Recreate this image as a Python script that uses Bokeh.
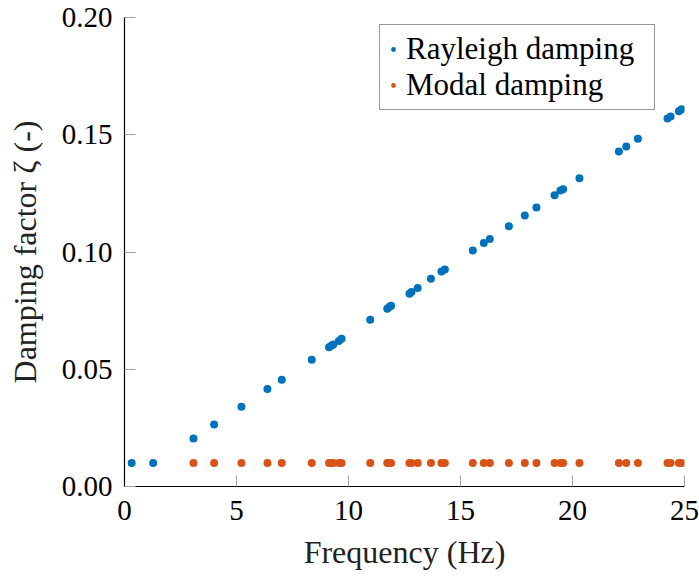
from bokeh.plotting import figure
from bokeh.models import Range1d, SingleIntervalTicker, NumeralTickFormatter, Legend, LegendItem
from bokeh.embed import file_html
from bokeh.resources import INLINE

# Data
rayleigh_freq = [0.32, 1.28, 3.08, 4.00, 5.22, 6.38, 7.02, 8.36, 9.13, 9.23, 9.32, 9.57, 9.69,
                 10.97, 11.73, 11.82, 11.90, 12.72, 12.81, 13.09, 13.68, 14.15, 14.30, 15.55,
                 16.04, 16.31, 17.16, 17.87, 18.39, 19.20, 19.46, 19.58, 20.31, 22.07, 22.40,
                 22.92, 24.24, 24.38, 24.75, 24.87]
rayleigh_zeta = [0.0100, 0.0100, 0.0205, 0.0264, 0.0340, 0.0416, 0.0455, 0.0541, 0.0594, 0.0600,
                 0.0606, 0.0620, 0.0630, 0.0711, 0.0758, 0.0765, 0.0771, 0.0822, 0.0829, 0.0847,
                 0.0886, 0.0917, 0.0925, 0.1006, 0.1038, 0.1055, 0.1110, 0.1156, 0.1190, 0.1242,
                 0.1262, 0.1268, 0.1315, 0.1429, 0.1450, 0.1483, 0.1569, 0.1578, 0.1600, 0.1609]
modal_freq = [3.08, 4.00, 5.22, 6.38, 7.02, 8.36, 9.13, 9.23, 9.32, 9.57, 9.69,
              10.97, 11.73, 11.82, 11.90, 12.72, 12.81, 13.09, 13.68, 14.15, 14.30, 15.55,
              16.04, 16.31, 17.16, 17.87, 18.39, 19.20, 19.46, 19.58, 20.31, 22.07, 22.40,
              22.92, 24.24, 24.38, 24.75, 24.87]
modal_zeta = [0.01] * len(modal_freq)

series_labels = ["Rayleigh damping", "Modal damping"]
x_label = "Frequency (Hz)"
y_label = "Damping factor ζ (-)"

FONT = "Liberation Serif"
BLUE = "#0072BD"
ORANGE = "#D95319"

p = figure(width=699, height=579, output_backend="svg", toolbar_location=None,
           x_range=Range1d(0, 25), y_range=Range1d(0, 0.20),
           min_border_left=124, min_border_right=15, min_border_top=17, min_border_bottom=93)
p.outline_line_color = None
p.xgrid.visible = False
p.ygrid.visible = False
p.background_fill_color = "white"
p.border_fill_color = "white"

r1 = p.scatter(rayleigh_freq, rayleigh_zeta, size=8, color=BLUE, line_color=None)
r2 = p.scatter(modal_freq, modal_zeta, size=8, color=ORANGE, line_color=None)

for ax in (p.xaxis[0], p.yaxis[0]):
    ax.axis_line_color = "black"
    ax.axis_line_width = 1.2
    ax.major_tick_in = 11
    ax.major_tick_out = 0
    ax.major_tick_line_color = "#a0a0a0"
    ax.major_tick_line_width = 1
    ax.minor_tick_line_color = None
    ax.major_label_text_font = FONT
    ax.major_label_text_font_size = "29px"
    ax.major_label_text_color = "black"
    ax.axis_label_text_font = FONT
    ax.axis_label_text_font_size = "32px"
    ax.axis_label_text_font_style = "normal"
    ax.axis_label_text_color = "#222222"

p.xaxis.ticker = SingleIntervalTicker(interval=5)
p.yaxis.ticker = SingleIntervalTicker(interval=0.05)
p.yaxis.formatter = NumeralTickFormatter(format="0.00")
p.xaxis.axis_label = x_label
p.yaxis.axis_label = y_label
p.xaxis.major_label_standoff = 10
p.yaxis.major_label_standoff = 8
p.xaxis.axis_label_standoff = 11
p.yaxis.axis_label_standoff = 16

legend = Legend(items=[LegendItem(label=series_labels[0], renderers=[r1]),
                       LegendItem(label=series_labels[1], renderers=[r2])],
                location=(255, 376))
legend.label_text_font = FONT
legend.label_text_font_size = "31px"
legend.label_text_color = "black"
legend.glyph_width = 14
legend.glyph_height = 12
legend.label_standoff = 6
legend.label_width = 242
legend.spacing = 0
legend.padding = 6
legend.margin = 0
legend.border_line_color = "#333333"
legend.border_line_width = 1
legend.background_fill_alpha = 1
p.add_layout(legend, "center")

open("out.html", "w").write(file_html(p, INLINE))
